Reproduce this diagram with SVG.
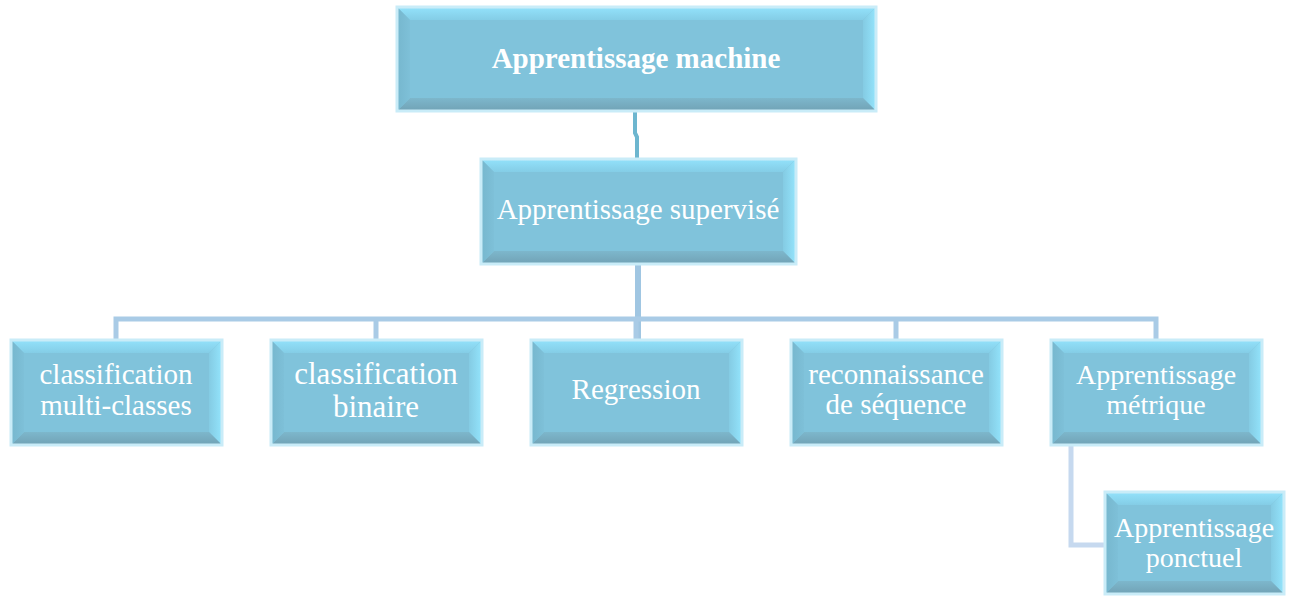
<svg xmlns="http://www.w3.org/2000/svg" width="1290" height="596" viewBox="0 0 1290 596">
  <style>
    .frame { fill: none; stroke: #c9ecf8; stroke-width: 3; }
    .face { fill: #80c3db; }
    .bt { fill: url(#gTop); }
    .br { fill: url(#gRight); }
    .bb { fill: url(#gBottom); }
    .bl { fill: url(#gLeft); }
    .lbl { font-family: "Liberation Serif", "Times New Roman", serif; fill: #ffffff; text-anchor: middle; }
    .link { fill: none; stroke-linejoin: miter; }
  </style>
  <defs>
    <linearGradient id="gTop" x1="0" y1="0" x2="0" y2="1">
      <stop offset="0" stop-color="#93e2fb"/>
      <stop offset="1" stop-color="#84cde6"/>
    </linearGradient>
    <linearGradient id="gRight" x1="1" y1="0" x2="0" y2="0">
      <stop offset="0" stop-color="#93e4fc"/>
      <stop offset="1" stop-color="#84cbe3"/>
    </linearGradient>
    <linearGradient id="gBottom" x1="0" y1="1" x2="0" y2="0">
      <stop offset="0" stop-color="#71a2b5"/>
      <stop offset="1" stop-color="#7db7cc"/>
    </linearGradient>
    <linearGradient id="gLeft" x1="0" y1="0" x2="1" y2="0">
      <stop offset="0" stop-color="#76b7ce"/>
      <stop offset="1" stop-color="#7ec0d8"/>
    </linearGradient>
  </defs>

  <!-- connectors -->
  <g id="connectors">
    <path class="link" d="M635 112 V133 L637 137 V158" stroke="#6db6cf" stroke-width="4"/>
    <path class="link" d="M638 265 V340" stroke="#a0c6e2" stroke-width="6"/>
    <path class="link" d="M116 340 V319 H1156 V340" stroke="#a9cbe6" stroke-width="5"/>
    <path class="link" d="M376 319 V340 M636 319 V340 M896 319 V340" stroke="#a9cbe6" stroke-width="5"/>
    <path class="link" d="M1071 446 V545 H1105" stroke="#c6d9ef" stroke-width="5"/>
  </g>

  <!-- root: x=397 y=7 w=479 h=104 -->
  <g id="node-machine">
    <rect class="face" x="397" y="7" width="479" height="104"/>
    <polygon class="bt" points="397,7 876,7 863,20 410,20"/>
    <polygon class="br" points="876,7 876,111 863,98 863,20"/>
    <polygon class="bb" points="397,111 876,111 863,98 410,98"/>
    <polygon class="bl" points="397,7 397,111 410,98 410,20"/>
    <rect class="frame" x="397" y="7" width="479" height="104"/>
    <text class="lbl" x="636" y="68" font-size="29" font-weight="bold">Apprentissage machine</text>
  </g>

  <!-- x=481 y=159 w=315 h=105 -->
  <g id="node-supervise">
    <rect class="face" x="481" y="159" width="315" height="105"/>
    <polygon class="bt" points="481,159 796,159 783,172 494,172"/>
    <polygon class="br" points="796,159 796,264 783,251 783,172"/>
    <polygon class="bb" points="481,264 796,264 783,251 494,251"/>
    <polygon class="bl" points="481,159 481,264 494,251 494,172"/>
    <rect class="frame" x="481" y="159" width="315" height="105"/>
    <text class="lbl" x="638" y="219" font-size="29">Apprentissage supervisé</text>
  </g>

  <!-- bottom row: y=340 h=105 w=211 -->
  <g id="node-multiclasses">
    <rect class="face" x="11" y="340" width="211" height="105"/>
    <polygon class="bt" points="11,340 222,340 209,353 24,353"/>
    <polygon class="br" points="222,340 222,445 209,432 209,353"/>
    <polygon class="bb" points="11,445 222,445 209,432 24,432"/>
    <polygon class="bl" points="11,340 11,445 24,432 24,353"/>
    <rect class="frame" x="11" y="340" width="211" height="105"/>
    <text class="lbl" x="116" y="384" font-size="29">classification</text>
    <text class="lbl" x="116" y="415" font-size="29">multi-classes</text>
  </g>

  <g id="node-binaire">
    <rect class="face" x="271" y="340" width="211" height="105"/>
    <polygon class="bt" points="271,340 482,340 469,353 284,353"/>
    <polygon class="br" points="482,340 482,445 469,432 469,353"/>
    <polygon class="bb" points="271,445 482,445 469,432 284,432"/>
    <polygon class="bl" points="271,340 271,445 284,432 284,353"/>
    <rect class="frame" x="271" y="340" width="211" height="105"/>
    <text class="lbl" x="376" y="384" font-size="31">classification</text>
    <text class="lbl" x="376" y="417" font-size="31">binaire</text>
  </g>

  <g id="node-regression">
    <rect class="face" x="531" y="340" width="211" height="105"/>
    <polygon class="bt" points="531,340 742,340 729,353 544,353"/>
    <polygon class="br" points="742,340 742,445 729,432 729,353"/>
    <polygon class="bb" points="531,445 742,445 729,432 544,432"/>
    <polygon class="bl" points="531,340 531,445 544,432 544,353"/>
    <rect class="frame" x="531" y="340" width="211" height="105"/>
    <text class="lbl" x="636" y="399" font-size="29">Regression</text>
  </g>

  <g id="node-sequence">
    <rect class="face" x="791" y="340" width="211" height="105"/>
    <polygon class="bt" points="791,340 1002,340 989,353 804,353"/>
    <polygon class="br" points="1002,340 1002,445 989,432 989,353"/>
    <polygon class="bb" points="791,445 1002,445 989,432 804,432"/>
    <polygon class="bl" points="791,340 791,445 804,432 804,353"/>
    <rect class="frame" x="791" y="340" width="211" height="105"/>
    <text class="lbl" x="896" y="384" font-size="29">reconnaissance</text>
    <text class="lbl" x="896" y="414" font-size="29">de séquence</text>
  </g>

  <g id="node-metrique">
    <rect class="face" x="1051" y="340" width="211" height="105"/>
    <polygon class="bt" points="1051,340 1262,340 1249,353 1064,353"/>
    <polygon class="br" points="1262,340 1262,445 1249,432 1249,353"/>
    <polygon class="bb" points="1051,445 1262,445 1249,432 1064,432"/>
    <polygon class="bl" points="1051,340 1051,445 1064,432 1064,353"/>
    <rect class="frame" x="1051" y="340" width="211" height="105"/>
    <text class="lbl" x="1156" y="384" font-size="28">Apprentissage</text>
    <text class="lbl" x="1156" y="414" font-size="28">métrique</text>
  </g>

  <!-- x=1105 y=492 w=179 h=102 -->
  <g id="node-ponctuel">
    <rect class="face" x="1105" y="492" width="179" height="102"/>
    <polygon class="bt" points="1105,492 1284,492 1271,505 1118,505"/>
    <polygon class="br" points="1284,492 1284,594 1271,581 1271,505"/>
    <polygon class="bb" points="1105,594 1284,594 1271,581 1118,581"/>
    <polygon class="bl" points="1105,492 1105,594 1118,581 1118,505"/>
    <rect class="frame" x="1105" y="492" width="179" height="102"/>
    <text class="lbl" x="1194" y="537" font-size="28">Apprentissage</text>
    <text class="lbl" x="1194" y="567" font-size="28">ponctuel</text>
  </g>
</svg>
